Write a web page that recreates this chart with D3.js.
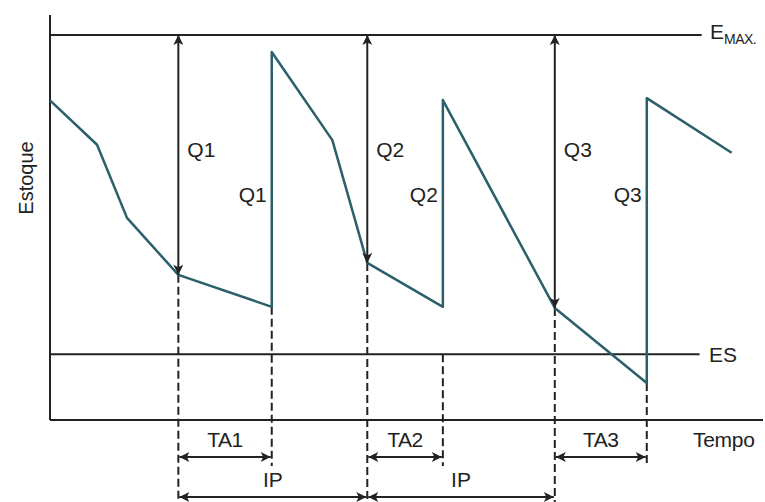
<!DOCTYPE html>
<html><head><meta charset="utf-8">
<script src="https://cdn.jsdelivr.net/npm/d3@7"></script>
<style>body{margin:0;background:#fff}svg{display:block}text{font-family:"Liberation Sans",Arial,sans-serif;fill:#222}</style>
</head><body><svg id="c" width="765" height="502"></svg>
<script>
// Stock level over time (arbitrary units)
const stockT = [0, 6.6, 10.8, 18, 31.1, 31.1, 39.6, 44.5, 55.1, 55.1, 70.8, 83.7, 83.7, 95.6];
const stockV = [83, 71.5, 52.5, 37.7, 29.4, 95.6, 72.7, 40.8, 29.4, 83.1, 29.1, 9.6, 83.6, 69.4];
const orderT = [18, 44.5, 70.8];        // moment each order is placed
const orderV = [37.7, 40.8, 29.1];      // stock at order moment
const arriveT = [31.1, 55.1, 83.7];     // moment each order arrives
const arriveV = [29.4, 29.4, 9.6];      // stock at arrival
const qLabels = ["Q1", "Q2", "Q3"];
const taLabels = ["TA1", "TA2", "TA3"];
const ipLabel = "IP";
const EMAX = 100, ES = 17.1;

const svg = d3.select("#c");
const x = d3.scaleLinear().domain([0, 100]).range([50, 763]);
const y = d3.scaleLinear().domain([0, 100]).range([420, 35]);
const ink = "#222", teal = "#2b5f6c";
const FS = 21;

const defs = svg.append("defs");
defs.append("marker").attr("id","ah").attr("viewBox","0 0 10 10").attr("refX",10).attr("refY",5)
  .attr("markerWidth",6).attr("markerHeight",5).attr("orient","auto-start-reverse").attr("markerUnits","strokeWidth")
  .append("path").attr("d","M0,0 L10,5 L0,10 L2.5,5 Z").attr("fill",ink);

// axes
svg.append("line").attr("x1",x(0)).attr("x2",x(0)).attr("y1",15).attr("y2",y(0)).attr("stroke",ink).attr("stroke-width",2);
svg.append("line").attr("x1",x(0)).attr("x2",x(100)).attr("y1",y(0)).attr("y2",y(0)).attr("stroke",ink).attr("stroke-width",2);
// EMAX and ES lines
svg.append("line").attr("x1",x(0)).attr("x2",x(91.4)).attr("y1",y(EMAX)).attr("y2",y(EMAX)).attr("stroke",ink).attr("stroke-width",2);
svg.append("line").attr("x1",x(0)).attr("x2",x(91.1)).attr("y1",y(ES)).attr("y2",y(ES)).attr("stroke",ink).attr("stroke-width",2);

// dashed verticals
const dashed = [];
orderT.forEach((t,i)=>dashed.push({t, v0: orderV[i], yb: 502}));
arriveT.forEach((t,i)=>dashed.push({t, v0: i===1 ? ES : arriveV[i], yb: 466}));
svg.selectAll(".dash").data(dashed).join("line")
  .attr("x1",d=>x(d.t)).attr("x2",d=>x(d.t)).attr("y1",d=>y(d.v0)).attr("y2",d=>d.yb)
  .attr("stroke",ink).attr("stroke-width",2).attr("stroke-dasharray","8,4");

// stock line
const pts = stockT.map((t,i)=>[t, stockV[i]]);
svg.append("path").attr("d", d3.line().x(d=>x(d[0])).y(d=>y(d[1]))(pts))
  .attr("fill","none").attr("stroke",teal).attr("stroke-width",2.5).attr("stroke-linejoin","round");

// Q arrows
orderT.forEach((t,i)=>{
  svg.append("line").attr("x1",x(t)).attr("x2",x(t)).attr("y1",y(orderV[i])).attr("y2",y(EMAX))
    .attr("stroke",ink).attr("stroke-width",2).attr("marker-start","url(#ah)").attr("marker-end","url(#ah)");
  svg.append("text").attr("x",x(t)+9).attr("y",y(70.3)).attr("dy","0.35em").attr("font-size",FS).text(qLabels[i]);
  svg.append("text").attr("x",x(arriveT[i])-5).attr("y",y(58.5)).attr("dy","0.35em").attr("text-anchor","end").attr("font-size",FS).text(qLabels[i]);
  // TA arrows
  svg.append("line").attr("x1",x(t)+1).attr("x2",x(arriveT[i])-1).attr("y1",457).attr("y2",457)
    .attr("stroke",ink).attr("stroke-width",2).attr("marker-start","url(#ah)").attr("marker-end","url(#ah)");
  svg.append("text").attr("x",(x(t)+x(arriveT[i]))/2).attr("y",440).attr("dy","0.35em").attr("text-anchor","middle").attr("font-size",FS).attr("letter-spacing","-0.5").text(taLabels[i]);
});
// IP arrows
for (let i=0;i<2;i++){
  svg.append("line").attr("x1",x(orderT[i])+1).attr("x2",x(orderT[i+1])-1).attr("y1",497).attr("y2",497)
    .attr("stroke",ink).attr("stroke-width",2).attr("marker-start","url(#ah)").attr("marker-end","url(#ah)");
  svg.append("text").attr("x",(x(orderT[i])+x(orderT[i+1]))/2).attr("y",480).attr("dy","0.35em").attr("text-anchor","middle").attr("font-size",FS).text(ipLabel);
}

// labels
const em = svg.append("text").attr("x",710).attr("y",y(EMAX)+4).attr("font-size",FS);
em.append("tspan").text("E");
em.append("tspan").attr("font-size",14).attr("dy",5).attr("letter-spacing","-0.5").text("MAX.");
svg.append("text").attr("x",709).attr("y",y(ES)).attr("dy","0.35em").attr("font-size",FS).text("ES");
svg.append("text").attr("x",693).attr("y",440).attr("dy","0.35em").attr("font-size",FS).attr("letter-spacing","-0.3").text("Tempo");
svg.append("text").attr("transform","translate(33,178) rotate(-90)").attr("text-anchor","middle").attr("font-size",20).text("Estoque");
</script></body></html>
